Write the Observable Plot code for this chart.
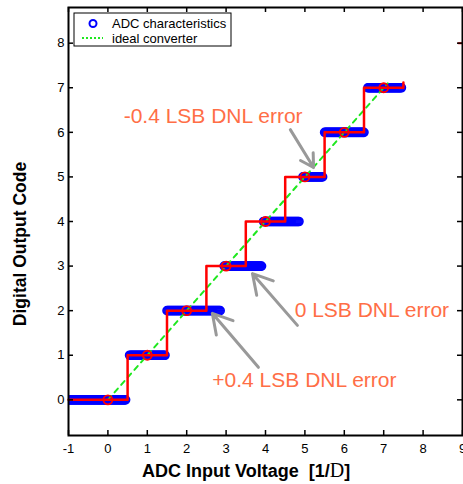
<!DOCTYPE html>
<html><head><meta charset="utf-8">
<script src="https://cdn.jsdelivr.net/npm/d3@7"></script>
<script src="https://cdn.jsdelivr.net/npm/@observablehq/plot@0.6"></script>
<style>body{margin:0;background:#fff;} svg{display:block}</style>
</head><body><div id="chart"></div>
<script>
// Output codes and the measured input range (in LSB) that produces each code
const codes = [0, 1, 2, 3, 4, 5, 6, 7];
const blueStart = [-1, 0.55, 1.5, 2.95, 3.95, 4.95, 5.5, 6.6];
const blueEnd = [0.45, 1.45, 2.85, 3.9, 4.85, 5.45, 6.5, 7.45];
const sampleStep = 0.025;
// Ideal staircase (red)
const idealX = [-1, 0.5, 1.5, 2.5, 3.5, 4.5, 5.5, 6.5, 7.5];
const idealY = [0, 1, 2, 3, 4, 5, 6, 7, 7.12];
const markerX = [0, 1, 2, 3, 4, 5, 6, 7];
const markerY = [0, 1, 2, 3, 4, 5, 6, 7];
const strayX = [8.9, 9.02];
const strayY = [8, 8];
// Ideal converter line (green)
const lineX = [0, 7.1];
const lineY = [0, 7.1];
// Ticks
const xTicks = [-1, 0, 1, 2, 3, 4, 5, 6, 7, 8, 9];
const yTicks = [0, 1, 2, 3, 4, 5, 6, 7, 8];
// Annotations
const noteText = ["-0.4 LSB DNL error", "0 LSB DNL error", "+0.4 LSB DNL error"];
const noteX = [0.4, 4.74, 2.65];
const noteY = [6.22, 1.85, 0.28];
const arrowX1 = [4.63, 4.81, 3.82];
const arrowY1 = [6.06, 1.67, 0.73];
const arrowX2 = [5.22, 3.67, 2.65];
const arrowY2 = [5.21, 2.83, 1.94];

const bluePts = codes.flatMap((c, i) =>
  d3.range(blueStart[i], blueEnd[i] + 1e-9, sampleStep).map(x => ({x, y: c})));
const ideal = idealX.map((x, i) => ({x, y: idealY[i]}));
const markers = markerX.map((x, i) => ({x, y: markerY[i]}));
const stray = strayX.map((x, i) => ({x, y: strayY[i]}));
const line = lineX.map((x, i) => ({x, y: lineY[i]}));
const notes = noteText.map((t, i) => ({t, x: noteX[i], y: noteY[i]}));
const arrows = arrowX1.map((x1, i) => ({x1, y1: arrowY1[i], x2: arrowX2[i], y2: arrowY2[i]}));

const W = 463, H = 484, mL = 68, mR = 1, mT = 7, mB = 49;
const innerW = W - mL - mR, innerH = H - mT - mB;
const font = "'Liberation Sans', Arial, Helvetica, sans-serif";

const svg = Plot.plot({
  width: W, height: H,
  marginLeft: mL, marginRight: mR, marginTop: mT, marginBottom: mB,
  style: {fontFamily: font, fontSize: "13px", background: "white", overflow: "visible"},
  x: {domain: [-1, 9], label: null},
  y: {domain: [-0.8, 8.8], label: null},
  marks: [
    Plot.dot(bluePts, {x: "x", y: "y", r: 4, stroke: "#0000ff", strokeWidth: 1.6, fill: "none", clip: true}),
    Plot.line(line, {x: "x", y: "y", stroke: "#1ee81e", strokeWidth: 2, strokeDasharray: "5,5"}),
    Plot.line(ideal, {x: "x", y: "y", curve: "step-after", stroke: "#ff0000", strokeWidth: 2.5}),
    Plot.line(stray, {x: "x", y: "y", stroke: "#ff0000", strokeWidth: 2}),
    Plot.dot(markers, {x: "x", y: "y", r: 4.5, stroke: "#ff0000", strokeWidth: 1.8, fill: "none"}),
    Plot.arrow(arrows, {x1: "x1", y1: "y1", x2: "x2", y2: "y2", stroke: "#999999", strokeWidth: 3, headLength: 11}),
    Plot.text(notes, {x: "x", y: "y", text: "t", textAnchor: "start", lineAnchor: "bottom", fill: "#ff6e46", fontSize: 21}),
    Plot.tickX(xTicks, {x: d => d, insetTop: innerH - 5, stroke: "black", strokeWidth: 1.5}),
    Plot.tickX(xTicks, {x: d => d, insetBottom: innerH - 5, stroke: "black", strokeWidth: 1.5}),
    Plot.tickY(yTicks, {y: d => d, insetRight: innerW - 5, stroke: "black", strokeWidth: 1.5}),
    Plot.tickY(yTicks, {y: d => d, insetLeft: innerW - 5, stroke: "black", strokeWidth: 1.5}),
    Plot.axisX(xTicks, {tickSize: 0, tickPadding: 8, fill: "black", tickFormat: d => `${d}`}),
    Plot.axisY(yTicks, {tickSize: 0, tickPadding: 4, fill: "black", tickFormat: d => `${d}`}),
    Plot.frame({stroke: "black", strokeWidth: 2})
  ]
});

const s = d3.select(svg);
// legend
const lg = s.append("g").attr("font-family", font).attr("font-size", 13);
lg.append("rect").attr("x", 74).attr("y", 13).attr("width", 157).attr("height", 33)
  .attr("fill", "white").attr("stroke", "black").attr("stroke-width", 1);
lg.append("circle").attr("cx", 93).attr("cy", 23.5).attr("r", 3.5)
  .attr("fill", "none").attr("stroke", "#0000ff").attr("stroke-width", 2);
lg.append("text").attr("x", 112).attr("y", 28).attr("text-anchor", "start").text("ADC characteristics");
lg.append("line").attr("x1", 82).attr("x2", 103).attr("y1", 38).attr("y2", 38)
  .attr("stroke", "#1ee81e").attr("stroke-width", 2).attr("stroke-dasharray", "2,2");
lg.append("text").attr("x", 112).attr("y", 43).attr("text-anchor", "start").text("ideal converter");

// axis titles
const xl = s.append("text").attr("x", 142).attr("y", 477).attr("text-anchor", "start")
  .attr("font-family", font).attr("font-weight", "bold").attr("font-size", 18);
xl.append("tspan").text("ADC Input Voltage\u00a0 [1/");
xl.append("tspan").attr("font-family", "'Liberation Serif', 'DejaVu Serif', serif").attr("font-weight", "normal").attr("font-size", 20).text("D");
xl.append("tspan").text("]");
s.append("text").attr("transform", "translate(20,244) rotate(-90)")
  .attr("text-anchor", "middle").attr("dominant-baseline", "central")
  .attr("font-family", font).attr("font-weight", "bold").attr("font-size", 17.5)
  .text("Digital Output Code");

document.getElementById("chart").appendChild(svg);
</script></body></html>
